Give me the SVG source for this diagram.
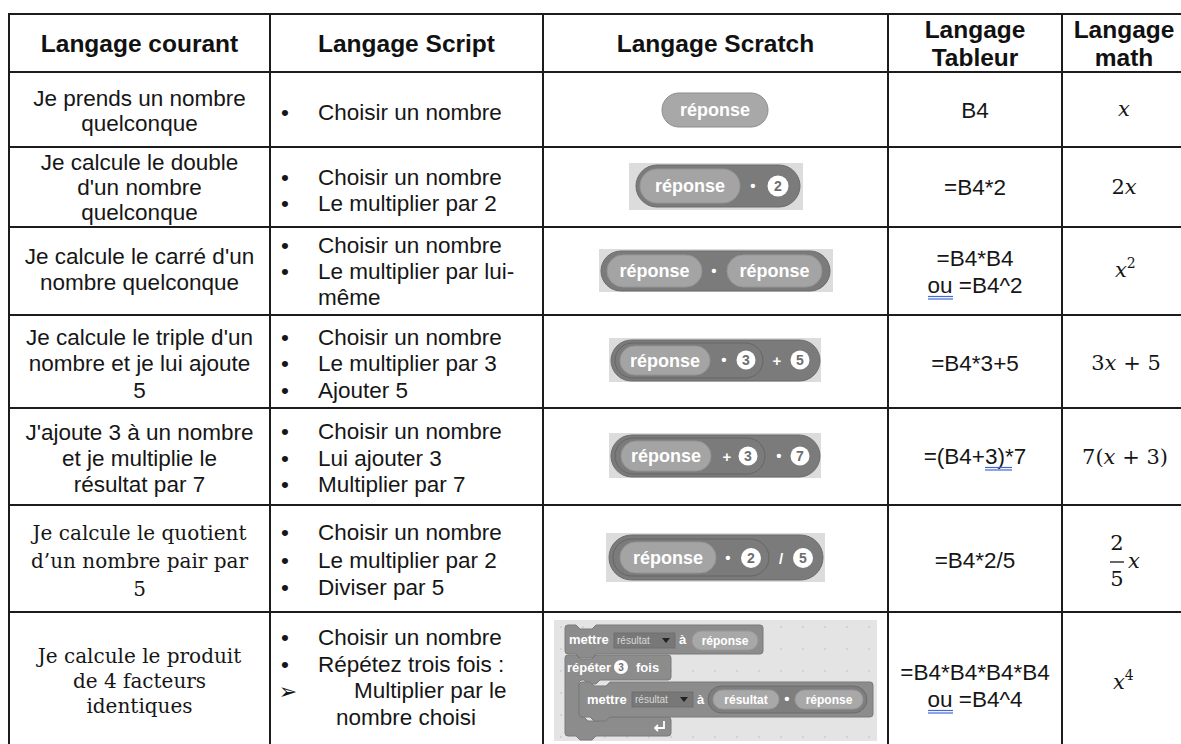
<svg xmlns="http://www.w3.org/2000/svg" width="1181" height="744" viewBox="0 0 1181 744">
<defs>
<style>
.h{font-family:"Liberation Sans",Arial,sans-serif;font-weight:bold;font-size:24.5px;fill:#111;text-anchor:middle}
.t{font-family:"Liberation Sans",Arial,sans-serif;font-size:22.5px;fill:#161616}
.c{text-anchor:middle}
.sf{font-family:"DejaVu Serif",serif;font-size:20px;fill:#161616;text-anchor:middle}
.m{font-family:"DejaVu Serif",serif;font-size:21px;fill:#161616}
.i{font-style:italic}
.bul{font-family:"Liberation Sans",Arial,sans-serif;font-size:22.5px;fill:#161616;text-anchor:middle}
.grid line{stroke:#1c1c1c;stroke-width:2}
.bg{fill:#dcdcdc}
.outer{fill:#7b7b7b;stroke:#6c6c6c;stroke-width:1}
.inner{fill:#a4a4a4;stroke:#959595;stroke-width:1}
.st{font-family:"Liberation Sans",Arial,sans-serif;font-weight:bold;font-size:18px;fill:#fff;text-anchor:middle}
.op{font-family:"Liberation Sans",Arial,sans-serif;font-weight:bold;font-size:15px;fill:#fff;text-anchor:middle}
.num{fill:#fff}
.nt{font-family:"Liberation Sans",Arial,sans-serif;font-weight:bold;font-size:14px;fill:#6e6e6e;text-anchor:middle}
.blk{fill:#8c8c8c;stroke:#7a7a7a;stroke-width:1}
.bt{font-family:"Liberation Sans",Arial,sans-serif;font-weight:bold;font-size:13px;fill:#fff}
.dd{fill:#787878;stroke:#6c6c6c;stroke-width:0.8}
.ddt{font-family:"Liberation Sans",Arial,sans-serif;font-size:10px;fill:#d8d8d8}
.pt{font-family:"Liberation Sans",Arial,sans-serif;font-weight:bold;font-size:12px;fill:#fff;text-anchor:middle}
.blue{stroke:#4169d6;stroke-width:1.2}
</style>
<pattern id="dots" width="22" height="22" patternUnits="userSpaceOnUse">
<rect width="22" height="22" fill="#e4e4e4"/>
<circle cx="11" cy="11" r="0.9" fill="#c9c9c9"/>
</pattern>
</defs>
<rect width="1181" height="744" fill="#fff"/>

<g id="connectors" class="grid">
<line x1="9" y1="14" x2="1181" y2="14"/>
<line x1="9" y1="72" x2="1181" y2="72"/>
<line x1="9" y1="147" x2="1181" y2="147"/>
<line x1="9" y1="227" x2="1181" y2="227"/>
<line x1="9" y1="315" x2="1181" y2="315"/>
<line x1="9" y1="408" x2="1181" y2="408"/>
<line x1="9" y1="505" x2="1181" y2="505"/>
<line x1="9" y1="612" x2="1181" y2="612"/>
<line x1="9" y1="13" x2="9" y2="744"/>
<line x1="270" y1="13" x2="270" y2="744"/>
<line x1="543" y1="13" x2="543" y2="744"/>
<line x1="888" y1="13" x2="888" y2="744"/>
<line x1="1062" y1="13" x2="1062" y2="744"/>
</g>

<g id="header">
<text class="h" x="139.5" y="52">Langage courant</text>
<text class="h" x="406.5" y="52">Langage Script</text>
<text class="h" x="715.5" y="52">Langage Scratch</text>
<text class="h" x="975" y="38">Langage</text>
<text class="h" x="975" y="66">Tableur</text>
<text class="h" x="1124" y="38">Langage</text>
<text class="h" x="1124" y="66">math</text>
</g>

<g id="row1">
<text class="t c" x="139.5" y="106">Je prends un nombre</text>
<text class="t c" x="139.5" y="131">quelconque</text>
<text class="bul" x="285" y="120">•</text>
<text class="t" x="318" y="120">Choisir un nombre</text>
<rect x="662" y="93" width="106" height="34" rx="17" fill="#a8a8a8" stroke="#8c8c8c"/>
<text class="st" x="715" y="116">réponse</text>
<text class="t c" x="975" y="118">B4</text>
<text class="m i" x="1124" y="116" text-anchor="middle">x</text>
</g>

<g id="row2">
<text class="t c" x="139.5" y="170">Je calcule le double</text>
<text class="t c" x="139.5" y="195">d'un nombre</text>
<text class="t c" x="139.5" y="220">quelconque</text>
<text class="bul" x="285" y="185">•</text>
<text class="t" x="318" y="185">Choisir un nombre</text>
<text class="bul" x="285" y="211">•</text>
<text class="t" x="318" y="211">Le multiplier par 2</text>
<rect class="bg" x="629" y="163" width="174" height="47"/>
<rect class="outer" x="636" y="165" width="164" height="42" rx="21"/>
<rect class="inner" x="640" y="169" width="100" height="34" rx="17"/>
<text class="st" x="690" y="192">réponse</text>
<text class="op" x="753" y="191">•</text>
<circle class="num" cx="778" cy="186" r="10.5"/>
<text class="nt" x="778" y="191">2</text>
<text class="t c" x="975" y="195">=B4*2</text>
<text class="m" x="1124" y="194" text-anchor="middle">2<tspan class="i">x</tspan></text>
</g>

<g id="row3">
<text class="t c" x="139.5" y="264">Je calcule le carré d'un</text>
<text class="t c" x="139.5" y="290">nombre quelconque</text>
<text class="bul" x="285" y="253">•</text>
<text class="t" x="318" y="253">Choisir un nombre</text>
<text class="bul" x="285" y="279">•</text>
<text class="t" x="318" y="279">Le multiplier par lui-</text>
<text class="t" x="318" y="305">même</text>
<rect class="bg" x="599" y="249" width="234" height="43"/>
<rect class="outer" x="601" y="251" width="229" height="40" rx="20"/>
<rect class="inner" x="607" y="255" width="95" height="32" rx="16"/>
<text class="st" x="654.5" y="277">réponse</text>
<text class="op" x="714" y="276">•</text>
<rect class="inner" x="727" y="255" width="95" height="32" rx="16"/>
<text class="st" x="774.5" y="277">réponse</text>
<text class="t c" x="975" y="266">=B4*B4</text>
<text class="t c" x="975" y="293">ou =B4^2</text>
<line class="blue" x1="928" y1="296.5" x2="953" y2="296.5"/>
<line class="blue" x1="928" y1="299" x2="953" y2="299"/>
<text class="m" x="1115" y="277"><tspan class="i">x</tspan><tspan font-size="14" dy="-9">2</tspan></text>
</g>

<g id="row4">
<text class="t c" x="139.5" y="345">Je calcule le triple d'un</text>
<text class="t c" x="139.5" y="371">nombre et je lui ajoute</text>
<text class="t c" x="139.5" y="398">5</text>
<text class="bul" x="285" y="345">•</text>
<text class="t" x="318" y="345">Choisir un nombre</text>
<text class="bul" x="285" y="371">•</text>
<text class="t" x="318" y="371">Le multiplier par 3</text>
<text class="bul" x="285" y="398">•</text>
<text class="t" x="318" y="398">Ajouter 5</text>
<rect class="bg" x="609" y="338" width="212" height="44"/>
<rect class="outer" x="611" y="340" width="209" height="41" rx="20.5"/>
<rect x="615" y="343" width="148" height="35" rx="17.5" fill="#7b7b7b" stroke="#666"/>
<rect class="inner" x="620" y="346" width="90" height="29" rx="14.5"/>
<text class="st" x="665" y="366.5">réponse</text>
<text class="op" x="724" y="365">•</text>
<circle class="num" cx="746" cy="360" r="9.5"/>
<text class="nt" x="746" y="365">3</text>
<text class="op" x="777" y="366">+</text>
<circle class="num" cx="800" cy="360" r="9.5"/>
<text class="nt" x="800" y="365">5</text>
<text class="t c" x="975" y="371">=B4*3+5</text>
<text class="m" x="1126" y="370" text-anchor="middle">3<tspan class="i">x</tspan> + 5</text>
</g>

<g id="row5">
<text class="t c" x="139.5" y="440">J'ajoute 3 à un nombre</text>
<text class="t c" x="139.5" y="466">et je multiplie le</text>
<text class="t c" x="139.5" y="492">résultat par 7</text>
<text class="bul" x="285" y="439">•</text>
<text class="t" x="318" y="439">Choisir un nombre</text>
<text class="bul" x="285" y="466">•</text>
<text class="t" x="318" y="466">Lui ajouter 3</text>
<text class="bul" x="285" y="492">•</text>
<text class="t" x="318" y="492">Multiplier par 7</text>
<rect class="bg" x="609" y="433" width="212" height="45"/>
<rect class="outer" x="611" y="435" width="209" height="42" rx="21"/>
<rect x="615" y="438" width="150" height="36" rx="18" fill="#7b7b7b" stroke="#666"/>
<rect class="inner" x="621" y="441" width="90" height="30" rx="15"/>
<text class="st" x="666" y="462">réponse</text>
<text class="op" x="727" y="462">+</text>
<circle class="num" cx="748" cy="456" r="9.5"/>
<text class="nt" x="748" y="461">3</text>
<text class="op" x="779" y="461">•</text>
<circle class="num" cx="800" cy="456" r="9.5"/>
<text class="nt" x="800" y="461">7</text>
<text class="t c" x="975" y="464">=(B4+3)*7</text>
<line class="blue" x1="985" y1="467.5" x2="1012" y2="467.5"/>
<line class="blue" x1="985" y1="470" x2="1012" y2="470"/>
<text class="m" x="1125" y="464" text-anchor="middle">7(<tspan class="i">x</tspan> + 3)</text>
</g>

<g id="row6">
<text class="sf" x="139.5" y="540">Je calcule le quotient</text>
<text class="sf" x="139.5" y="568">d’un nombre pair par</text>
<text class="sf" x="139.5" y="596">5</text>
<text class="bul" x="285" y="540">•</text>
<text class="t" x="318" y="540">Choisir un nombre</text>
<text class="bul" x="285" y="568">•</text>
<text class="t" x="318" y="568">Le multiplier par 2</text>
<text class="bul" x="285" y="595">•</text>
<text class="t" x="318" y="595">Diviser par 5</text>
<rect class="bg" x="606" y="533" width="219" height="49"/>
<rect class="outer" x="609" y="535" width="214" height="45" rx="22.5"/>
<rect x="613" y="539" width="156" height="37" rx="18.5" fill="#7b7b7b" stroke="#666"/>
<rect class="inner" x="620" y="542" width="96" height="31" rx="15.5"/>
<text class="st" x="668" y="564">réponse</text>
<text class="op" x="728" y="563">•</text>
<circle class="num" cx="751" cy="558" r="10"/>
<text class="nt" x="751" y="563">2</text>
<text class="op" x="781" y="564">/</text>
<circle class="num" cx="803" cy="558" r="10"/>
<text class="nt" x="803" y="563">5</text>
<text class="t c" x="975" y="568">=B4*2/5</text>
<text class="m" x="1117" y="550" text-anchor="middle">2</text>
<line x1="1110" y1="562" x2="1124" y2="562" stroke="#161616" stroke-width="1.3"/>
<text class="m" x="1117" y="586" text-anchor="middle">5</text>
<text class="m i" x="1128" y="568">x</text>
</g>

<g id="row7">
<text class="sf" x="139.5" y="663">Je calcule le produit</text>
<text class="sf" x="139.5" y="688">de 4 facteurs</text>
<text class="sf" x="139.5" y="713">identiques</text>
<text class="bul" x="285" y="645">•</text>
<text class="t" x="318" y="645">Choisir un nombre</text>
<text class="bul" x="285" y="672">•</text>
<text class="t" x="318" y="672">Répétez trois fois :</text>
<text x="288" y="699" font-family="DejaVu Sans, sans-serif" font-size="22" fill="#161616" text-anchor="middle">➢</text>
<text class="t" x="354" y="698">Multiplier par le</text>
<text class="t" x="336" y="725">nombre choisi</text>
<rect x="554" y="620" width="323" height="121" fill="url(#dots)"/>
<path class="blk" d="M565,628 Q565,625 568,625 H576 L580,629 H592 L596,625 H760 Q763,625 763,628 V651 Q763,654 760,654 H596 L592,658 H580 L576,654 H568 Q565,654 565,651 Z"/>
<text class="bt" x="569" y="644">mettre</text>
<rect class="dd" x="614" y="633" width="61" height="15"/>
<text class="ddt" x="617" y="644">résultat</text>
<polygon points="662,638 670,638 666,643" fill="#222"/>
<text class="bt" x="679" y="644">à</text>
<rect x="692" y="631" width="66" height="19" rx="9.5" fill="#a8a8a8" stroke="#989898"/>
<text class="pt" x="725" y="645">réponse</text>
<path class="blk" d="M565,658 Q565,655 568,655 H576 L580,659 H592 L596,655 H668 Q671,655 671,658 V677 Q671,680 668,680 H600 L596,684 H588 L584,680 H582 Q579,680 579,683 V714 Q579,717 582,717 H584 L588,721 H600 L604,717 H668 Q671,717 671,720 V733 Q671,736 668,736 H596 L592,740 H580 L576,736 H568 Q565,736 565,733 Z"/>
<text class="bt" x="567" y="672">répéter</text>
<circle cx="621" cy="667" r="7" fill="#fff"/>
<text x="621" y="671" font-family="Liberation Sans, Arial, sans-serif" font-weight="bold" font-size="10" fill="#6e6e6e" text-anchor="middle">3</text>
<text class="bt" x="636" y="672">fois</text>
<path class="blk" d="M579,685 Q579,682 582,682 H590 L594,686 H606 L610,682 H870 Q873,682 873,685 V714 Q873,717 870,717 H610 L606,721 H594 L590,717 H582 Q579,717 579,714 Z"/>
<text class="bt" x="587" y="704">mettre</text>
<rect class="dd" x="632" y="692" width="61" height="15"/>
<text class="ddt" x="635" y="703">résultat</text>
<polygon points="680,697 688,697 684,702" fill="#222"/>
<text class="bt" x="697" y="704">à</text>
<rect x="708" y="686" width="159" height="27" rx="13.5" fill="#7e7e7e" stroke="#6c6c6c"/>
<rect x="713" y="690" width="66" height="19" rx="9.5" fill="#a8a8a8" stroke="#989898"/>
<text class="pt" x="746" y="704">résultat</text>
<text class="op" x="787" y="704" font-size="12">•</text>
<rect x="795" y="690" width="68" height="19" rx="9.5" fill="#a8a8a8" stroke="#989898"/>
<text class="pt" x="829" y="704">réponse</text>
<path d="M664,721 V728 H655 M658,725 L655,728 L658,731" fill="none" stroke="#fff" stroke-width="1.8"/>
<text class="t c" x="975" y="680">=B4*B4*B4*B4</text>
<text class="t c" x="975" y="707">ou =B4^4</text>
<line class="blue" x1="928" y1="710.5" x2="953" y2="710.5"/>
<line class="blue" x1="928" y1="713" x2="953" y2="713"/>
<text class="m" x="1113" y="689"><tspan class="i">x</tspan><tspan font-size="14" dy="-9">4</tspan></text>
</g>
</svg>
